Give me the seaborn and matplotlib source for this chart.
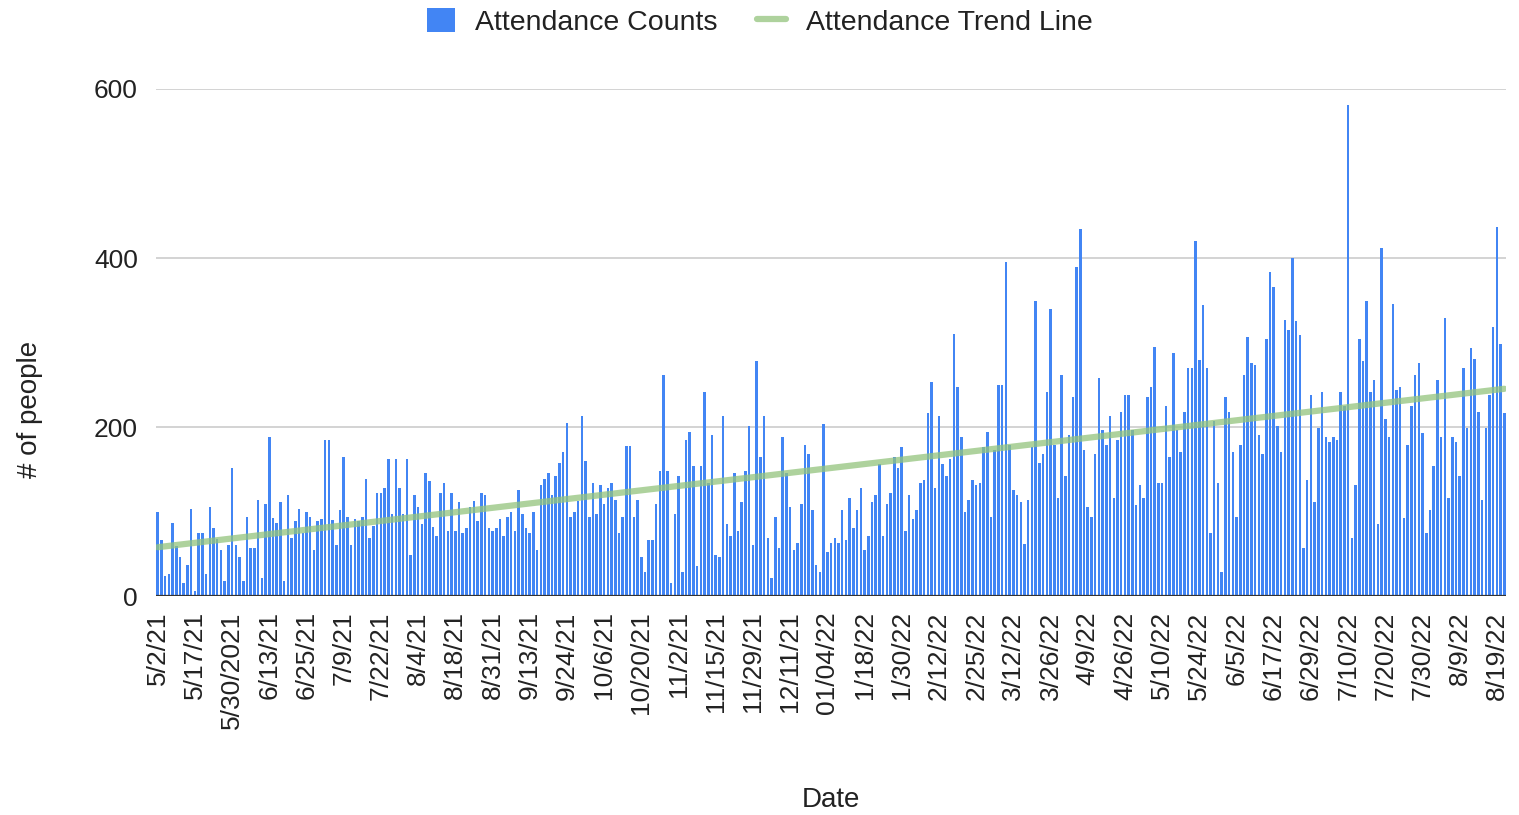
import numpy as np
import matplotlib
matplotlib.use('Agg')
import matplotlib.pyplot as plt
import seaborn as sns

# every 10th date shown on the axis
tick_labels = ['5/2/21', '5/17/21', '5/30/2021', '6/13/21', '6/25/21', '7/9/21', '7/22/21',
               '8/4/21', '8/18/21', '8/31/21', '9/13/21', '9/24/21', '10/6/21', '10/20/21',
               '11/2/21', '11/15/21', '11/29/21', '12/11/21', '01/04/22', '1/18/22', '1/30/22',
               '2/12/22', '2/25/22', '3/12/22', '3/26/22', '4/9/22', '4/26/22', '5/10/22',
               '5/24/22', '6/5/22', '6/17/22', '6/29/22', '7/10/22', '7/20/22', '7/30/22',
               '8/9/22', '8/19/22']

# attendance per day (one row per tick interval)
counts = [
    100, 66, 24, 26, 86, 59, 46, 15, 37, 103,
    6, 74, 74, 26, 105, 80, 68, 55, 18, 60,
    151, 60, 46, 18, 94, 57, 57, 114, 21, 109,
    188, 92, 86, 111, 18, 120, 69, 89, 103, 75,
    100, 94, 55, 89, 91, 185, 185, 90, 60, 102,
    165, 94, 60, 91, 89, 94, 139, 69, 83, 122,
    122, 128, 162, 97, 162, 128, 97, 162, 49, 120,
    105, 85, 145, 136, 82, 71, 122, 134, 77, 122,
    77, 111, 74, 80, 105, 113, 89, 122, 120, 80,
    77, 80, 91, 71, 94, 100, 77, 125, 97, 80,
    74, 100, 55, 131, 139, 145, 120, 142, 157, 171,
    205, 94, 100, 112, 213, 160, 94, 134, 97, 131,
    109, 128, 134, 114, 74, 94, 177, 177, 94, 114,
    46, 29, 66, 66, 109, 148, 261, 148, 15, 97,
    142, 29, 185, 194, 154, 35, 154, 241, 134, 190,
    49, 46, 213, 85, 71, 145, 77, 111, 148, 201,
    60, 278, 165, 213, 69, 21, 94, 57, 188, 145,
    105, 55, 63, 109, 179, 168, 102, 37, 29, 204,
    52, 63, 69, 63, 102, 66, 116, 80, 102, 128,
    55, 71, 111, 120, 156, 71, 109, 122, 165, 151,
    176, 77, 120, 91, 102, 134, 137, 216, 253, 128,
    213, 156, 142, 162, 310, 247, 188, 100, 114, 137,
    131, 134, 176, 194, 94, 173, 250, 250, 395, 179,
    125, 120, 111, 62, 114, 176, 349, 157, 168, 241,
    340, 179, 116, 261, 142, 190, 236, 389, 434, 173,
    105, 94, 168, 258, 196, 179, 213, 116, 185, 218,
    238, 238, 196, 108, 131, 116, 236, 247, 295, 134,
    134, 225, 165, 287, 196, 170, 218, 270, 270, 420,
    279, 344, 270, 74, 207, 134, 29, 236, 218, 170,
    94, 179, 261, 307, 276, 273, 190, 168, 304, 383,
    366, 201, 170, 327, 315, 400, 326, 309, 57, 137,
    238, 111, 199, 241, 188, 182, 188, 185, 241, 225,
    581, 69, 131, 304, 278, 349, 241, 256, 85, 412,
    210, 188, 346, 244, 247, 92, 179, 225, 261, 276,
    193, 74, 102, 154, 256, 188, 329, 116, 188, 182,
    142, 270, 199, 293, 281, 218, 114, 199, 238, 318,
    437, 298, 216,
]

sns.set_theme(style='white')
plt.rcParams['font.family'] = ['Liberation Sans', 'DejaVu Sans']
text_col = '#222222'

fig = plt.figure(figsize=(15.19, 8.15), dpi=100)
ax = fig.add_axes([0.1026, 0.2687, 0.889, 0.6221])

idx = np.arange(len(counts))
sns.barplot(x=idx, y=counts, color='#4285f4', saturation=1, width=0.68,
            linewidth=0, ax=ax, label='Attendance Counts', zorder=2)

# linear trend fitted to the counts
slope, icpt = np.polyfit(idx, counts, 1)
sns.lineplot(x=idx, y=icpt + slope * idx, color='#93c47d', alpha=0.75,
             linewidth=4.5, ax=ax, label='Attendance Trend Line', zorder=3)

ax.set_xlim(-0.5, len(counts) - 0.5)
ax.set_ylim(0, 600)
ax.set_yticks([0, 200, 400, 600])
ax.set_yticklabels(['0', '200', '400', '600'], fontsize=19, color=text_col)
ax.yaxis.grid(True, color='#cccccc', linewidth=1.2)
ax.set_axisbelow(True)
ax.axhline(0, color='#333333', linewidth=1.6, zorder=4)

ax.set_xticks(idx[::10])
ax.set_xticklabels(tick_labels, rotation=90, fontsize=19, color=text_col)
ax.tick_params(axis='x', length=0, pad=11)
ax.tick_params(axis='y', length=0, pad=13)
for s in ax.spines.values():
    s.set_visible(False)
ax.set_xlabel('')
ax.set_ylabel('')

fig.text(831 / 1519, 1 - 800 / 815, 'Date', ha='center', va='center',
         fontsize=20, color=text_col)
fig.text(30 / 1519, 1 - 409 / 815, '# of people', ha='center', va='center',
         rotation=90, fontsize=20, color=text_col)

handles, labels = ax.get_legend_handles_labels()
order = [labels.index('Attendance Counts'), labels.index('Attendance Trend Line')]
ax.get_legend().remove()
fig.legend([handles[i] for i in order], [labels[i] for i in order],
           loc='center', bbox_to_anchor=(0.5, 1 - 22 / 815),
           ncol=2, frameon=False, fontsize=20.5, handlelength=1.0, handleheight=0.9,
           handletextpad=0.7, columnspacing=1.4, labelcolor=text_col)

fig.savefig('out.png', dpi=100)
